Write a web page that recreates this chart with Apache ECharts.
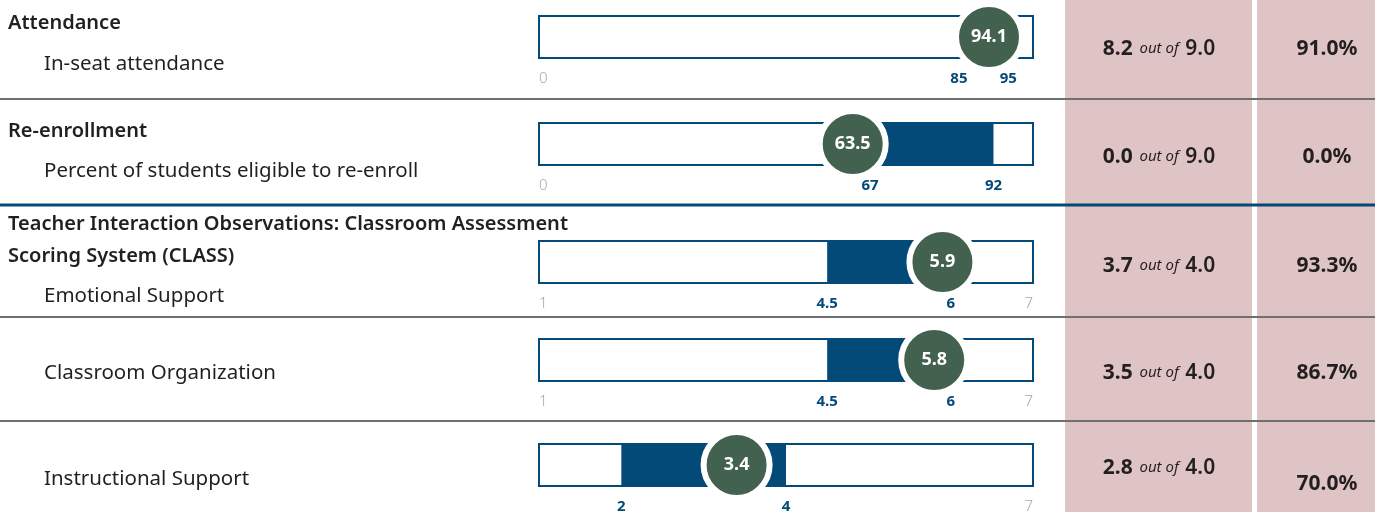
<!DOCTYPE html>
<html>
<head>
<meta charset="utf-8">
<title>Scorecard</title>
<script src="https://cdn.jsdelivr.net/npm/echarts@6/dist/echarts.min.js"></script>
<style>
  html, body { margin: 0; padding: 0; background: #fff; }
  #chart { width: 1375px; height: 512px; }
</style>
</head>
<body>
<div id="chart"></div>
<script>
// group headings and the measure rows under them
const groupTitles = ['Attendance', 'Re-enrollment', 'Teacher Interaction Observations: Classroom Assessment\nScoring System (CLASS)'];
const measures = ['In-seat attendance', 'Percent of students eligible to re-enroll', 'Emotional Support', 'Classroom Organization', 'Instructional Support'];

// bullet values
const actual = [94.1, 63.5, 5.9, 5.8, 3.4];
const bandLow = [85, 67, 4.5, 4.5, 2];
const bandHigh = [95, 92, 6, 6, 4];
const bandFilled = [false, true, true, true, true];
const scaleMin = [0, 0, 1, 1, 1];
const scaleMax = [100, 100, 7, 7, 7];
const showMinLabel = [true, true, true, true, false];
const showMaxLabel = [false, false, true, true, true];

// right hand columns
const points = [8.2, 0.0, 3.7, 3.5, 2.8];
const pointsPossible = [9.0, 9.0, 4.0, 4.0, 4.0];
const percentEarned = [91.0, 0.0, 93.3, 86.7, 70.0];

// layout
const FONT = '"Noto Sans", "Open Sans", sans-serif';
const BLUE = '#044a78';
const GREEN = '#43614f';
const INK = '#231f20';
const PINK = '#dfc4c5';
const BOX_RIGHT = 1034;
const boxTop = [15, 122, 240, 338, 443];
const titleY = [23, 131, 224];
const measureY = [64, 171, 296, 373, 479];
const scoreY = [49, 157, 266, 373, 468];
const pctY = [49, 157, 266, 373, 484];

const chart = echarts.init(document.getElementById('chart'));

const grids = [], xAxes = [], yAxes = [], series = [];
measures.forEach((m, i) => {
  grids.push({
    left: 539, top: boxTop[i] + 1, width: 494, height: 42,
    show: true, backgroundColor: '#fff', borderColor: BLUE, borderWidth: 2,
    outerBoundsMode: 'none'
  });
  const ticks = [];
  if (showMinLabel[i]) ticks.push(scaleMin[i]);
  ticks.push(bandLow[i], bandHigh[i]);
  if (showMaxLabel[i]) ticks.push(scaleMax[i]);
  xAxes.push({
    gridIndex: i, type: 'value', min: scaleMin[i], max: scaleMax[i],
    axisLine: { show: false }, axisTick: { show: false }, splitLine: { show: false },
    axisLabel: {
      customValues: ticks,
      margin: 13,
      alignMinLabel: showMinLabel[i] ? 'left' : null,
      alignMaxLabel: showMaxLabel[i] ? 'right' : null,
      formatter: v => (v === bandLow[i] || v === bandHigh[i]) ? '{band|' + v + '}' : '{end|' + v + '}',
      rich: {
        band: { fontFamily: FONT, fontWeight: 'bold', fontSize: 15, color: BLUE },
        end: { fontFamily: FONT, fontWeight: 300, fontSize: 15, color: '#a8a8a8' }
      }
    }
  });
  yAxes.push({ gridIndex: i, type: 'value', min: 0, max: 1, show: false });

  series.push({
    type: 'line', xAxisIndex: i, yAxisIndex: i, data: [], z: 1, silent: true,
    markArea: bandFilled[i] ? {
      silent: true,
      itemStyle: { color: BLUE },
      data: [[{ xAxis: bandLow[i] }, { xAxis: bandHigh[i] }]]
    } : undefined
  });
  series.push({
    type: 'scatter', xAxisIndex: i, yAxisIndex: i, z: 5, clip: false, silent: true,
    data: [[actual[i], 0.5]],
    symbolSize: 66,
    itemStyle: { color: GREEN, borderColor: '#fff', borderWidth: 6, opacity: 1 },
    label: {
      show: true, position: 'inside',
      formatter: p => p.value[0].toFixed(1),
      color: '#fff', fontFamily: FONT, fontWeight: 'bold', fontSize: 18
    }
  });
});

const graphic = [
  { type: 'rect', shape: { x: 1065, y: 0, width: 187, height: 512 }, style: { fill: PINK }, z: 0 },
  { type: 'rect', shape: { x: 1257, y: 0, width: 118, height: 512 }, style: { fill: PINK }, z: 0 }
];
[[99, '#6f6f6f', 2], [205, BLUE, 3], [317, '#6f6f6f', 2], [421, '#6f6f6f', 2]].forEach(d => {
  graphic.push({ type: 'line', shape: { x1: 0, y1: d[0], x2: 1375, y2: d[0] }, style: { stroke: d[1], lineWidth: d[2] }, z: 10 });
});
groupTitles.forEach((t, g) => {
  graphic.push({
    type: 'text', x: 8, y: titleY[g] - 16, z: 10,
    style: { text: t, font: '600 20px ' + FONT, fill: INK, lineHeight: 32, verticalAlign: 'top' }
  });
});
measures.forEach((m, i) => {
  graphic.push({
    type: 'text', x: 44, y: measureY[i], z: 10,
    style: { text: m, font: '20.5px ' + FONT, fill: INK, verticalAlign: 'middle' }
  });
  graphic.push({
    type: 'text', x: 1159, y: scoreY[i], z: 10,
    style: {
      text: '{v|' + points[i].toFixed(1) + '}  {o|out of}  {m|' + pointsPossible[i].toFixed(1) + '}',
      align: 'center', verticalAlign: 'middle',
      rich: {
        v: { fontFamily: FONT, fontWeight: 'bold', fontSize: 21, fill: INK },
        o: { fontFamily: FONT, fontStyle: 'italic', fontSize: 15, fill: INK },
        m: { fontFamily: FONT, fontWeight: 600, fontSize: 21, fill: INK }
      }
    }
  });
  graphic.push({
    type: 'text', x: 1327, y: pctY[i], z: 10,
    style: {
      text: percentEarned[i].toFixed(1) + '%', font: 'bold 21px ' + FONT, fill: INK,
      align: 'center', verticalAlign: 'middle'
    }
  });
});

chart.setOption({
  animation: false,
  grid: grids,
  xAxis: xAxes,
  yAxis: yAxes,
  series: series,
  graphic: graphic
});

// keep each badge clear of the right end of its track
const badgeFix = [];
measures.forEach((m, i) => {
  const px = chart.convertToPixel({ xAxisIndex: i }, actual[i]);
  const limit = BOX_RIGHT - 45;
  badgeFix.push({});
  badgeFix.push(px > limit ? { symbolOffset: [limit - px, 0] } : {});
});
chart.setOption({ series: badgeFix });
</script>
</body>
</html>
